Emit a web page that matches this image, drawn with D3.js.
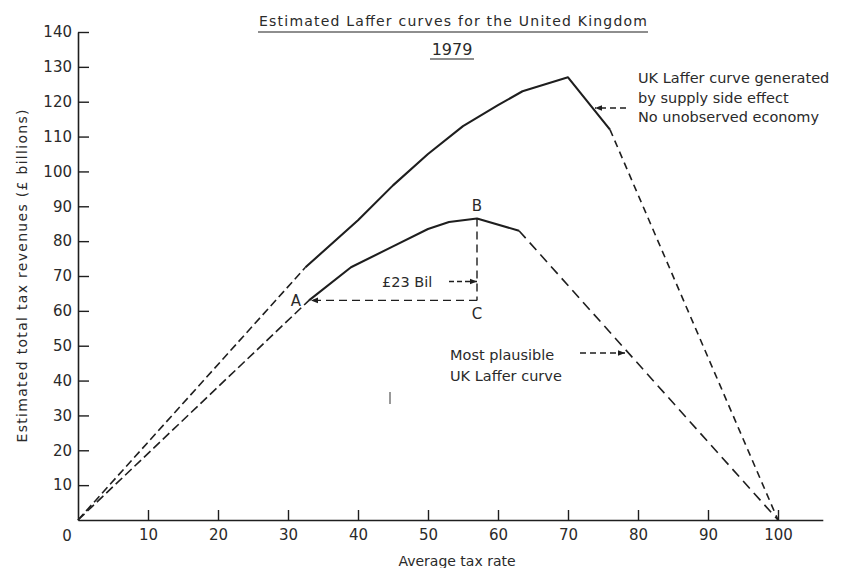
<!DOCTYPE html>
<html><head><meta charset="utf-8">
<script src="https://cdn.jsdelivr.net/npm/d3@7"></script>
<style>
body{margin:0;background:#fff;}
svg{display:block;font-family:"DejaVu Sans",sans-serif;}
</style></head><body>
<svg id="c" width="849" height="568"></svg>
<script>
const title = "Estimated Laffer curves for the United Kingdom";
const subtitle = "1979";
const xLabel = "Average tax rate";
const yLabel = "Estimated total tax revenues (£ billions)";
const xTicks = [10, 20, 30, 40, 50, 60, 70, 80, 90, 100];
const yTicks = [10, 20, 30, 40, 50, 60, 70, 80, 90, 100, 110, 120, 130, 140];
// Upper curve: supply side effect, no unobserved economy
const supplyRate    = [0, 32.5, 40, 45, 50, 55, 60, 63.5, 70, 76, 100];
const supplyRevenue = [0, 72.5, 86, 96, 105, 113, 119, 123, 127, 112, 0];
// Lower curve: most plausible
const plausibleRate    = [0, 33, 39, 45, 50, 53, 57, 63, 100];
const plausibleRevenue = [0, 63, 72.5, 78.5, 83.5, 85.5, 86.5, 83, 0];
const supplyNote = ["UK Laffer curve generated", "by supply side effect", "No unobserved economy"];
const plausibleNote = ["Most plausible", "UK Laffer curve"];
const gapLabel = "£23 Bil";
const pointLabels = ["A", "B", "C"];

const svg = d3.select("#c");
const ink = "#1e1e1e", txt = "#2a2a2a";
const x = d3.scaleLinear().domain([0, 106.4]).range([78, 822.8]);
const y = d3.scaleLinear().domain([0, 140]).range([520, 32]);

const defs = svg.append("defs");
function marker(id, dir) {
  defs.append("marker").attr("id", id).attr("viewBox", "0 0 10 10")
    .attr("refX", dir > 0 ? 10 : 0).attr("refY", 5)
    .attr("markerWidth", 7).attr("markerHeight", 7).attr("orient", "auto")
    .attr("markerUnits", "userSpaceOnUse")
    .append("path").attr("d", dir > 0 ? "M0,1L10,5L0,9Z" : "M10,1L0,5L10,9Z").attr("fill", ink);
}
marker("ahR", 1); marker("ahL", -1);

// Axes
const xAxis = d3.axisBottom(x).tickValues(xTicks).tickSizeInner(-10).tickSizeOuter(0).tickPadding(9);
const gx = svg.append("g").attr("transform", `translate(0,${y(0)})`).call(xAxis);
const yAxis = d3.axisLeft(y).tickValues(yTicks).tickSizeInner(-11).tickSizeOuter(0).tickPadding(6);
const gy = svg.append("g").attr("transform", `translate(${x(0)},0)`).call(yAxis);
[gx, gy].forEach(g => {
  g.select(".domain").attr("stroke", ink).attr("stroke-width", 1.6);
  g.selectAll(".tick line").attr("stroke", ink).attr("stroke-width", 1.4);
  g.selectAll(".tick text").attr("fill", txt).attr("font-size", 15).attr("font-family", "DejaVu Sans");
});
svg.append("text").attr("x", x(0) - 11).attr("y", y(0) + 21).attr("text-anchor", "middle")
  .attr("fill", txt).attr("font-size", 15).text("0");

// Axis labels
svg.append("text").attr("x", 457).attr("y", 566).attr("text-anchor", "middle")
  .attr("fill", txt).attr("font-size", 14).text(xLabel);
svg.append("text").attr("transform", `translate(27,${276}) rotate(-90)`).attr("text-anchor", "middle")
  .attr("fill", txt).attr("font-size", 14).attr("textLength", 333).attr("lengthAdjust", "spacing").text(yLabel);

// Title
svg.append("text").attr("x", 259).attr("y", 26).attr("fill", txt).attr("font-size", 14)
  .attr("textLength", 388).attr("lengthAdjust", "spacing").text(title);
svg.append("line").attr("x1", 258).attr("x2", 648).attr("y1", 32).attr("y2", 32).attr("stroke", ink).attr("stroke-width", 1.2);
svg.append("text").attr("x", 452).attr("y", 55).attr("text-anchor", "middle").attr("fill", txt).attr("font-size", 16).text(subtitle);
svg.append("line").attr("x1", 430).attr("x2", 474).attr("y1", 59).attr("y2", 59).attr("stroke", ink).attr("stroke-width", 1.2);

const line = d3.line().x(d => x(d[0])).y(d => y(d[1]));
const sup = supplyRate.map((r, i) => [r, supplyRevenue[i]]);
const pla = plausibleRate.map((r, i) => [r, plausibleRevenue[i]]);
const nS = sup.length, nP = pla.length;

function draw(pts, dashed, dash) {
  svg.append("path").attr("d", line(pts)).attr("fill", "none").attr("stroke", ink)
    .attr("stroke-width", dashed ? 1.6 : 2.1).attr("stroke-linejoin", "round")
    .attr("stroke-dasharray", dashed ? dash : null);
}
// Supply-side curve
draw(sup.slice(0, 2), true, "8,4");
draw(sup.slice(1, nS - 1), false);
draw(sup.slice(nS - 2), true, "7,5");
// Most plausible curve
draw(pla.slice(0, 2), true, "9,4");
draw(pla.slice(1, nP - 1), false);
draw(pla.slice(nP - 2), true, "10,6");

// A, B, C construction
const A = pla[1];
const B = pla.reduce((m, d) => d[1] > m[1] ? d : m, pla[0]);
const C = [B[0], A[1]];
svg.append("line").attr("x1", x(C[0])).attr("y1", y(C[1])).attr("x2", x(A[0]) + 2).attr("y2", y(A[1]))
  .attr("stroke", ink).attr("stroke-width", 1.4).attr("stroke-dasharray", "8,5").attr("marker-end", "url(#ahR)");
svg.append("line").attr("x1", x(B[0])).attr("y1", y(B[1])).attr("x2", x(C[0])).attr("y2", y(C[1]))
  .attr("stroke", ink).attr("stroke-width", 1.4).attr("stroke-dasharray", "8,5");
svg.append("text").attr("x", x(A[0]) - 13).attr("y", y(A[1]) + 6).attr("text-anchor", "middle").attr("fill", txt).attr("font-size", 15).text(pointLabels[0]);
svg.append("text").attr("x", x(B[0])).attr("y", y(B[1]) - 7).attr("text-anchor", "middle").attr("fill", txt).attr("font-size", 15).text(pointLabels[1]);
svg.append("text").attr("x", x(C[0])).attr("y", y(C[1]) + 19).attr("text-anchor", "middle").attr("fill", txt).attr("font-size", 15).text(pointLabels[2]);

// £23 Bil label and arrow
const gapY = y(A[1] + (B[1] - A[1]) * 0.23);
svg.append("text").attr("x", 382).attr("y", gapY + 5).attr("fill", txt).attr("font-size", 14.5).text(gapLabel);
svg.append("line").attr("x1", 449).attr("x2", x(B[0])).attr("y1", gapY).attr("y2", gapY)
  .attr("stroke", ink).attr("stroke-width", 1.4).attr("stroke-dasharray", "5,3").attr("marker-end", "url(#ahR)");

// Supply note
supplyNote.forEach((t, i) => svg.append("text").attr("x", 638).attr("y", 83 + i * 19.5).attr("fill", txt).attr("font-size", 14.5).text(t));
svg.append("line").attr("x1", 626).attr("x2", 595).attr("y1", 108).attr("y2", 108)
  .attr("stroke", ink).attr("stroke-width", 1.4).attr("stroke-dasharray", "6,4").attr("marker-end", "url(#ahR)");

// Plausible note
plausibleNote.forEach((t, i) => svg.append("text").attr("x", 450).attr("y", 360 + i * 21).attr("fill", txt).attr("font-size", 14.5).text(t));
svg.append("line").attr("x1", 580).attr("x2", 625).attr("y1", 353).attr("y2", 353)
  .attr("stroke", ink).attr("stroke-width", 1.4).attr("stroke-dasharray", "6,4").attr("marker-end", "url(#ahR)");

// stray mark in print
svg.append("line").attr("x1", 390).attr("x2", 390).attr("y1", 392).attr("y2", 404).attr("stroke", "#555").attr("stroke-width", 1.2);
</script></body></html>
